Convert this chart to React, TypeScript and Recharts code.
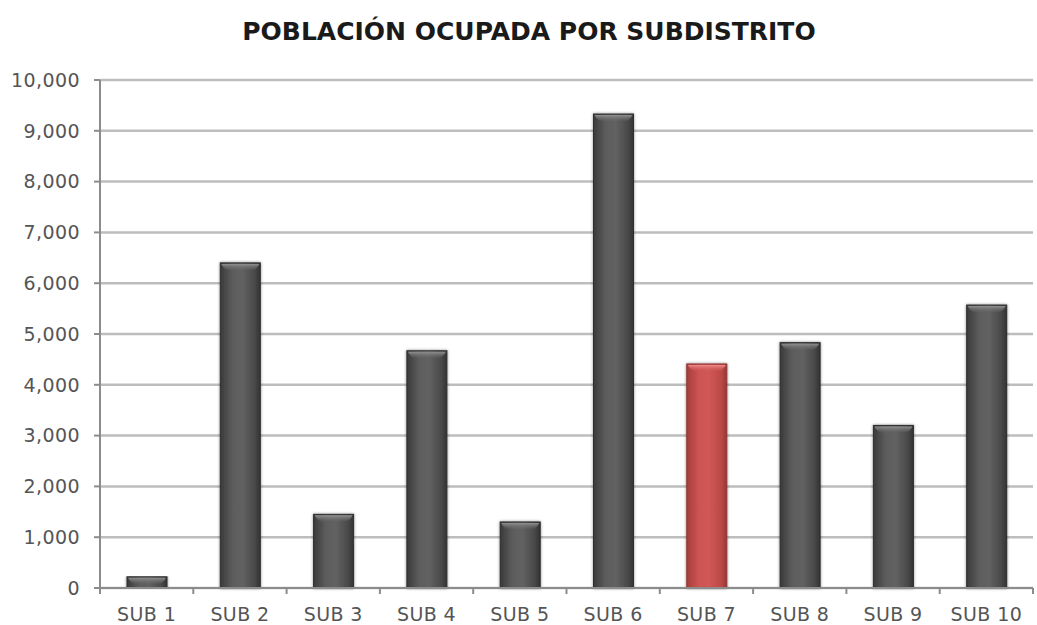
import React from "react";
import { BarChart, Bar, XAxis, YAxis, CartesianGrid, Cell } from "recharts";

const categories = ["SUB 1", "SUB 2", "SUB 3", "SUB 4", "SUB 5", "SUB 6", "SUB 7", "SUB 8", "SUB 9", "SUB 10"];
const population = [220, 6400, 1450, 4670, 1300, 9330, 4410, 4830, 3200, 5570];
const highlighted = ["SUB 7"];
const yTicks = [0, 1000, 2000, 3000, 4000, 5000, 6000, 7000, 8000, 9000, 10000];

const data = categories.map((name, i) => ({ name, value: population[i] }));

const FONT = "'DejaVu Sans', Verdana, sans-serif";

const GlossyBar = (props: any) => {
  const { x, y, width, height, payload } = props;
  if (!height || height <= 0) return null;
  const red = highlighted.includes(payload.name);
  const fill = red ? "url(#barRed)" : "url(#barGray)";
  const cap = red ? "url(#capRed)" : "url(#capGray)";
  const capH = Math.min(7, height - 1);
  return (
    <g filter="url(#barShadow)">
      <rect x={x} y={y} width={width} height={height} fill={fill} stroke={red ? "#8e3533" : "#2e2e2e"} strokeWidth={1} />
      {capH > 1 && (
        <path
          d={`M${x + 1},${y + 1} L${x + width - 1},${y + 1} Q${x + width - 4},${y + capH} ${x + width - 8},${y + capH} L${x + 8},${y + capH} Q${x + 4},${y + capH} ${x + 1},${y + 1} Z`}
          fill={cap}
        />
      )}
    </g>
  );
};

const CatTick = (props: any) => {
  const { x, y, payload, index, visibleTicksCount } = props;
  const half = payload && payload.offset ? payload.offset : 46.65;
  const last = index === (visibleTicksCount ?? categories.length) - 1;
  return (
    <g>
      <line x1={x - half} y1={y - 8} x2={x - half} y2={y - 2} stroke="#8c8c8c" strokeWidth={2} />
      {last && <line x1={x + half} y1={y - 8} x2={x + half} y2={y - 2} stroke="#8c8c8c" strokeWidth={2} />}
      <text x={x} y={y + 25} textAnchor="middle" fill="#555" fontSize={19} letterSpacing={0.4} fontFamily={FONT}>
        {payload.value}
      </text>
    </g>
  );
};

export default function App() {
  return (
    <div style={{ position: "absolute", left: 0, top: 0, width: 1037, height: 625, background: "#fff" }}>
      <div
        style={{
          position: "absolute",
          left: 0,
          top: 17,
          width: 1058,
          textAlign: "center",
          fontFamily: FONT,
          fontWeight: 700,
          fontSize: 25,
          color: "#1a1a1a",
          lineHeight: "30px",
        }}
      >
        POBLACIÓN OCUPADA POR SUBDISTRITO
      </div>
      <BarChart
        width={1037}
        height={625}
        data={data}
        margin={{ top: 80, right: 4, left: 0, bottom: 7 }}
        barCategoryGap={0}
      >
        <defs>
          <linearGradient id="barGray" x1="0" y1="0" x2="1" y2="0">
            <stop offset="0%" stopColor="#3a3a3a" />
            <stop offset="30%" stopColor="#5c5c5c" />
            <stop offset="55%" stopColor="#626262" />
            <stop offset="85%" stopColor="#4a4a4a" />
            <stop offset="100%" stopColor="#333333" />
          </linearGradient>
          <linearGradient id="barRed" x1="0" y1="0" x2="1" y2="0">
            <stop offset="0%" stopColor="#a53d3b" />
            <stop offset="30%" stopColor="#cc5452" />
            <stop offset="55%" stopColor="#d05856" />
            <stop offset="85%" stopColor="#bd4947" />
            <stop offset="100%" stopColor="#9a3735" />
          </linearGradient>
          <linearGradient id="capGray" x1="0" y1="0" x2="0" y2="1">
            <stop offset="0%" stopColor="#909090" />
            <stop offset="100%" stopColor="#6a6a6a" stopOpacity={0.2} />
          </linearGradient>
          <linearGradient id="capRed" x1="0" y1="0" x2="0" y2="1">
            <stop offset="0%" stopColor="#f08c8a" />
            <stop offset="100%" stopColor="#d05856" stopOpacity={0.2} />
          </linearGradient>
          <filter id="barShadow" x="-20%" y="-5%" width="140%" height="110%">
            <feGaussianBlur in="SourceAlpha" stdDeviation="1.5" />
            <feOffset dx="0" dy="0" result="b" />
            <feComponentTransfer>
              <feFuncA type="linear" slope="0.45" />
            </feComponentTransfer>
            <feMerge>
              <feMergeNode />
              <feMergeNode in="SourceGraphic" />
            </feMerge>
          </filter>
        </defs>
        <CartesianGrid vertical={false} stroke="#bdbdbd" strokeWidth={2.5} />
        <XAxis
          dataKey="name"
          height={30}
          tickLine={false}
          axisLine={{ stroke: "#8c8c8c", strokeWidth: 2 }}
          tick={<CatTick />}
          interval={0}
        />
        <YAxis
          width={100}
          domain={[0, 10000]}
          ticks={yTicks}
          interval={0}
          tickSize={6}
          tickMargin={14}
          tickLine={{ stroke: "#8c8c8c", strokeWidth: 2 }}
          axisLine={{ stroke: "#8c8c8c", strokeWidth: 2 }}
          tick={{ fill: "#555", fontSize: 19, fontFamily: FONT, letterSpacing: 0.4 }}
          tickFormatter={(v: number) => v.toLocaleString("en-US")}
        />
        <Bar dataKey="value" barSize={40} shape={<GlossyBar />} isAnimationActive={false}>
          {data.map((d) => (
            <Cell key={d.name} />
          ))}
        </Bar>
      </BarChart>
    </div>
  );
}
